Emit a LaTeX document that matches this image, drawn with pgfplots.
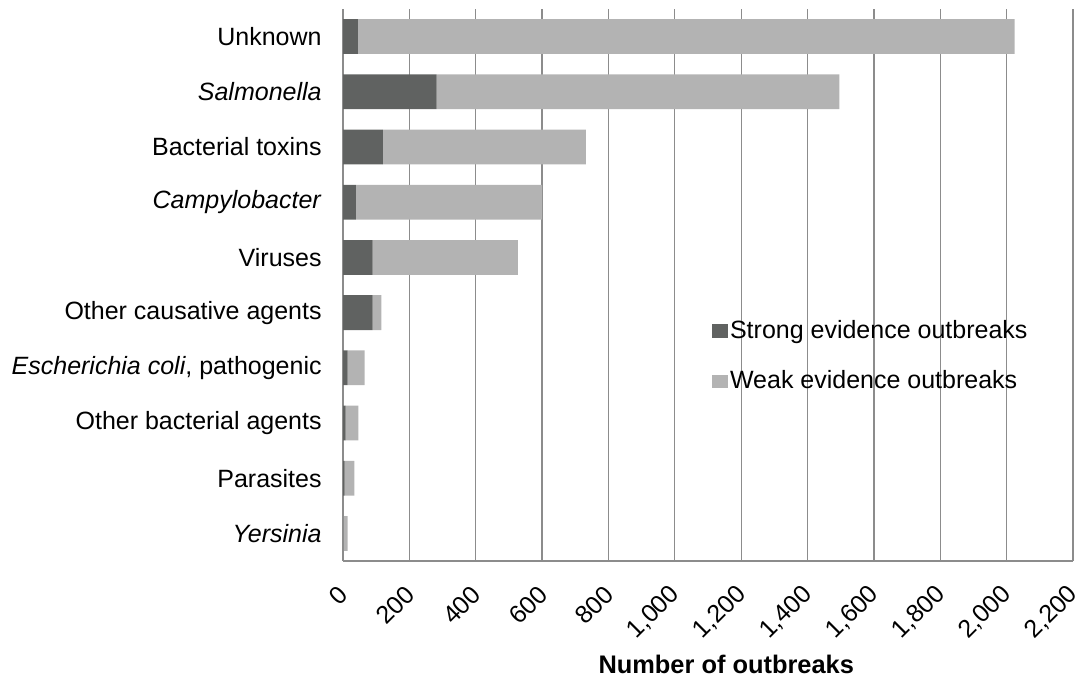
\documentclass[border=0pt]{standalone}
\usepackage{fontspec}
\setmainfont{Liberation Sans}
\usepackage{pgfplots}
\pgfplotsset{compat=1.18}
\definecolor{strongc}{RGB}{96,98,97}
\definecolor{weakc}{RGB}{179,179,179}
\definecolor{gridc}{RGB}{140,140,140}
\begin{document}
\begin{tikzpicture}
\useasboundingbox (0,0) rectangle (540pt,338.5pt);
\begin{axis}[
  at={(171.5pt,58pt)}, anchor=south west,
  scale only axis, width=365pt, height=276pt,
  xbar stacked, bar width=0.63,
  y dir=reverse,
  ymin=-0.5, ymax=9.5,
  xmin=0, xmax=2200,
  xtick={0,200,...,2200},
  scaled x ticks=false,
  /pgf/number format/assume math mode=true,
  /pgf/number format/1000 sep={,},
  ytick={0,...,9},
  yticklabels={Unknown, \textit{Salmonella}, Bacterial toxins, \textit{Campylobacter}, Viruses, Other causative agents, {\textit{Escherichia coli}, pathogenic}, Other bacterial agents, Parasites, \textit{Yersinia}},
  major tick length=0pt,
  axis x line*=bottom, axis y line*=left,
  axis line style={draw=gridc, line width=0.7pt, -},
  xmajorgrids, major grid style={draw=gridc, line width=0.6pt},
  tick label style={font=\fontsize{12.5}{15}\selectfont},
  xticklabel style={anchor=east, inner sep=0pt, xshift=0.5pt, yshift=-14.5pt, rotate=45},
  yticklabel style={anchor=east, inner sep=0pt, xshift=-10.5pt},
  xlabel={Number of outbreaks},
  xlabel style={at={(axis description cs:0.525,0)}, anchor=base, yshift=-56pt, font=\fontsize{12.7}{15}\selectfont\bfseries},
  legend style={draw=none, fill=none, at={(0.505,0.44)}, anchor=north west,
    font=\fontsize{12.5}{15}\selectfont, row sep=12.5pt, inner sep=0pt,
    nodes={inner sep=1pt}},
  legend cell align=left,
  legend image code/.code={\fill[#1] (0pt,-3.3pt) rectangle (8pt,3.3pt);},
]
\addplot[fill=strongc, draw=none] coordinates {(45,0) (282,1) (120,2) (39,3) (89,4) (89,5) (14,6) (8,7) (5,8) (1,9)};
\addplot[fill=weakc, draw=none] coordinates {(1979,0) (1214,1) (612,2) (561,3) (438,4) (27,5) (51,6) (38,7) (29,8) (13,9)};
\legend{Strong evidence outbreaks, Weak evidence outbreaks}
\end{axis}
\end{tikzpicture}
\end{document}
